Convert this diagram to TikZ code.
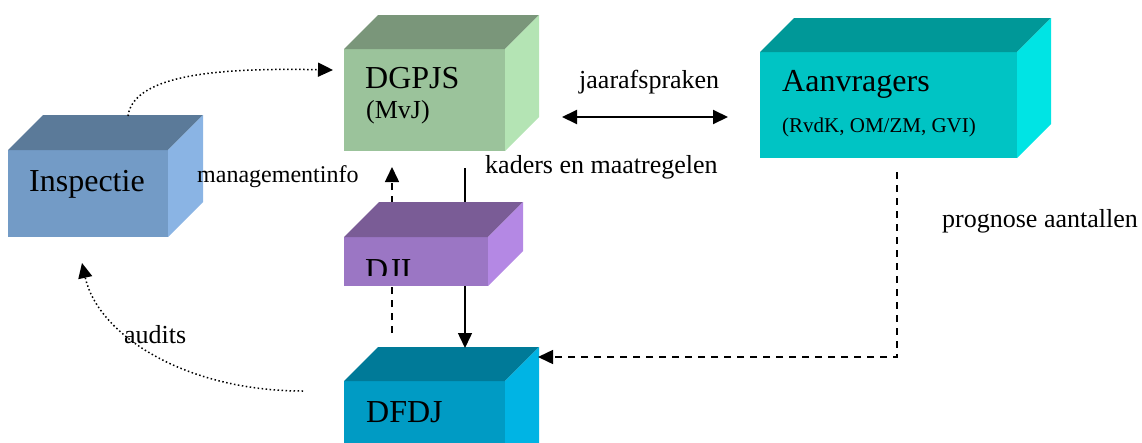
\documentclass[tikz,border=0pt]{standalone}
\usepackage{fontspec}
\setmainfont{Liberation Serif}
\usetikzlibrary{arrows.meta}
\definecolor{insF}{RGB}{115,155,198}
\definecolor{insT}{RGB}{91,122,153}
\definecolor{insR}{RGB}{138,180,228}
\definecolor{dgF}{RGB}{155,195,155}
\definecolor{dgT}{RGB}{122,150,122}
\definecolor{dgR}{RGB}{180,228,180}
\definecolor{aaF}{RGB}{0,196,196}
\definecolor{aaT}{RGB}{0,152,152}
\definecolor{aaR}{RGB}{0,228,228}
\definecolor{djF}{RGB}{155,118,196}
\definecolor{djT}{RGB}{122,92,150}
\definecolor{djR}{RGB}{180,136,228}
\definecolor{dfF}{RGB}{0,155,196}
\definecolor{dfT}{RGB}{0,122,152}
\definecolor{dfR}{RGB}{0,180,228}
\newcommand\drawcube[4]{%
  \fill[#2] (#1.north west) -- ++(#4,-#4) -- ([shift={(#4,-#4)}]#1.north east) -- (#1.north east) -- cycle;
  \fill[#3] (#1.north east) -- ++(#4,-#4) -- ([shift={(#4,-#4)}]#1.south east) -- (#1.south east) -- cycle;}
\begin{document}
\begin{tikzpicture}[x=1pt,y=-1pt,
  face/.style={draw=none, inner sep=0pt, outer sep=0pt, anchor=north west},
  tip/.style={-{Triangle[length=15pt,width=14pt]}},
  dotline/.style={line width=1.5pt, dash pattern=on 1.5pt off 2.5pt},
  dashline/.style={line width=1.5pt, dash pattern=on 7pt off 6pt},
  big/.style={inner sep=0pt, anchor=base west, font=\fontsize{32}{38}\selectfont},
  lbl/.style={inner sep=0pt, anchor=base west, font=\fontsize{26}{31}\selectfont},
  small/.style={inner sep=0pt, anchor=base west, font=\fontsize{21}{25}\selectfont}]
\useasboundingbox (0,0) rectangle (1142,442);
\clip (0,0) rectangle (1142,442);

% coordinates for connector ends
\coordinate (c1s) at (128,116);
\coordinate (c1e) at (333,70);
\coordinate (c2s) at (303,391);
\coordinate (c2e) at (82,263);
\coordinate (c3s) at (392,333);
\coordinate (c3e) at (392,167);
\coordinate (c4s) at (465,168);
\coordinate (c4e) at (465,348);
\coordinate (c5s) at (562,117);
\coordinate (c5e) at (728,117);
\coordinate (c6s) at (897,172);
\coordinate (c6m) at (897,357);
\coordinate (c6e) at (538,357);

% Inspectie
\node[face, fill=insF, minimum width=160pt, minimum height=87pt] (insp) at (8,150) {};
\drawcube{insp}{insT}{insR}{35}
\node[big] (tinsp) at (29,191) {Inspectie};

% DGPJS
\node[face, fill=dgF, minimum width=161pt, minimum height=102pt] (dgpjs) at (344,49) {};
\drawcube{dgpjs}{dgT}{dgR}{34}
\node[big] (tdg) at (365,88) {DGPJS};
\node[lbl] (tmvj) at (366,118) {(MvJ)};

% Aanvragers
\node[face, fill=aaF, minimum width=257pt, minimum height=106pt] (aanv) at (760,52) {};
\drawcube{aanv}{aaT}{aaR}{34}
\node[big] (taa) at (782,91) {Aanvragers};
\node[small] (taa2) at (782,132) {(RvdK, OM/ZM, GVI)};

% DFDJ
\node[face, fill=dfF, minimum width=161pt, minimum height=100pt] (dfdj) at (344,381) {};
\drawcube{dfdj}{dfT}{dfR}{34}
\node[big] (tdf) at (366,422) {DFDJ};

% connectors behind DJI
\draw[dashline, tip] (c3s) -- (c3e);
\draw[line width=1.5pt, tip] (c4s) -- (c4e);

% DJI
\node[face, fill=djF, minimum width=144pt, minimum height=49pt] (dji) at (344,237) {};
\drawcube{dji}{djT}{djR}{35}
\begin{scope}
\clip (344,237) rectangle (488,275);
\node[big] (tdji) at (365,280) {DJI};
\end{scope}

% other connectors
\draw[dotline, tip] (c1s) .. controls (134,72) and (230,68) .. (c1e);
\draw[dotline, tip] (c2s) .. controls (185,391) and (98,335) .. (c2e);
\draw[line width=2pt, {Triangle[length=15pt,width=14pt]}-{Triangle[length=15pt,width=14pt]}] (c5s) -- (c5e);
\draw[dashline, tip] (c6s) -- (c6m) -- (c6e);

% labels
\node[lbl, font=\fontsize{24}{29}\selectfont] (lman) at (197,182) {managementinfo};
\node[lbl] (ljaar) at (579,88) {jaarafspraken};
\node[lbl] (lkad) at (485,173) {kaders en maatregelen};
\node[lbl] (lprog) at (942,227) {prognose aantallen};
\node[lbl] (laud) at (124,343) {audits};
\end{tikzpicture}
\end{document}
